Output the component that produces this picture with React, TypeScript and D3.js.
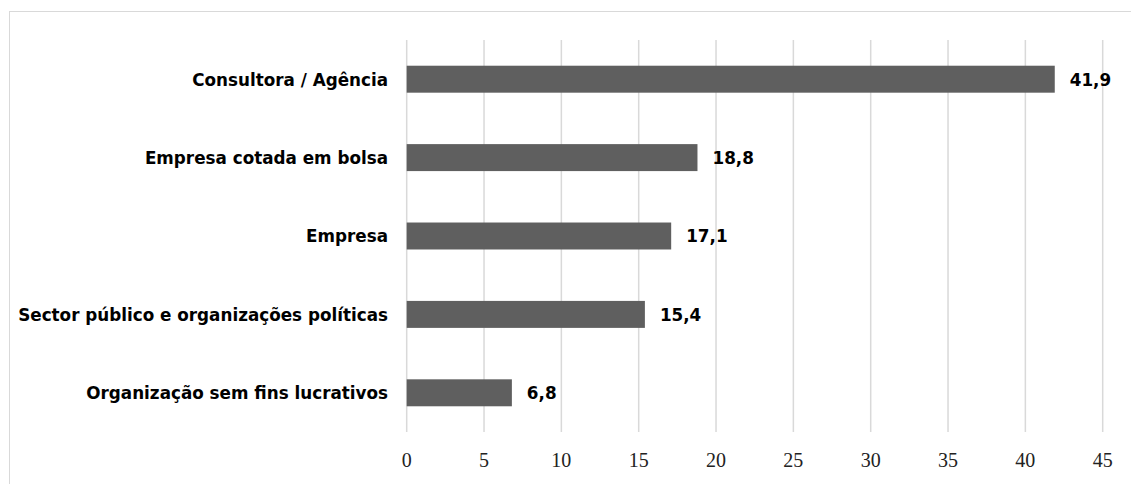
import React from "react";
import * as d3 from "d3";

const categories = [
  "Consultora / Agência",
  "Empresa cotada em bolsa",
  "Empresa",
  "Sector público e organizações políticas",
  "Organização sem fins lucrativos",
];
const values = [41.9, 18.8, 17.1, 15.4, 6.8];
const ticks = [0, 5, 10, 15, 20, 25, 30, 35, 40, 45];

export default function App() {
  const W = 1131, H = 484;
  const x = d3.scaleLinear().domain([0, 45]).range([406.7, 1102.7]);
  const y = d3.scaleBand<string>().domain(categories).range([40, 432]).paddingInner(0.656).paddingOuter(0.328);
  const fmt = (v: number) => v.toFixed(1).replace(".", ",");
  const labelFont = "'DejaVu Sans', Verdana, sans-serif";
  return (
    <svg width={W} height={H} style={{ position: "absolute", left: 0, top: 0 }}>
      <rect x={0} y={0} width={W} height={H} fill="#fff" />
      <rect x={9.5} y={11.5} width={W + 20} height={H + 20} fill="none" stroke="#d9d9d9" strokeWidth={1} />
      {ticks.map((t) => (
        <line key={t} x1={x(t)} x2={x(t)} y1={40} y2={432} stroke="#d9d9d9" strokeWidth={1.5} />
      ))}
      {categories.map((c, i) => (
        <g key={c}>
          <rect x={x(0)} y={y(c)!} width={x(values[i]) - x(0)} height={y.bandwidth()} fill="#5f5f5f" />
          <text x={388} y={y(c)! + y.bandwidth() / 2} dy="0.38em" textAnchor="end"
            fontFamily={labelFont} fontWeight="bold" fontSize={16.8} fill="#000">{c}</text>
          <text x={x(values[i]) + 15} y={y(c)! + y.bandwidth() / 2} dy="0.38em"
            fontFamily={labelFont} fontWeight="bold" fontSize={16.8} fill="#000">{fmt(values[i])}</text>
        </g>
      ))}
      {ticks.map((t) => (
        <text key={"t" + t} x={x(t)} y={466.5} textAnchor="middle"
          fontFamily="'Liberation Serif', 'DejaVu Serif', serif" fontSize={20} fill="#222">{t}</text>
      ))}
    </svg>
  );
}
